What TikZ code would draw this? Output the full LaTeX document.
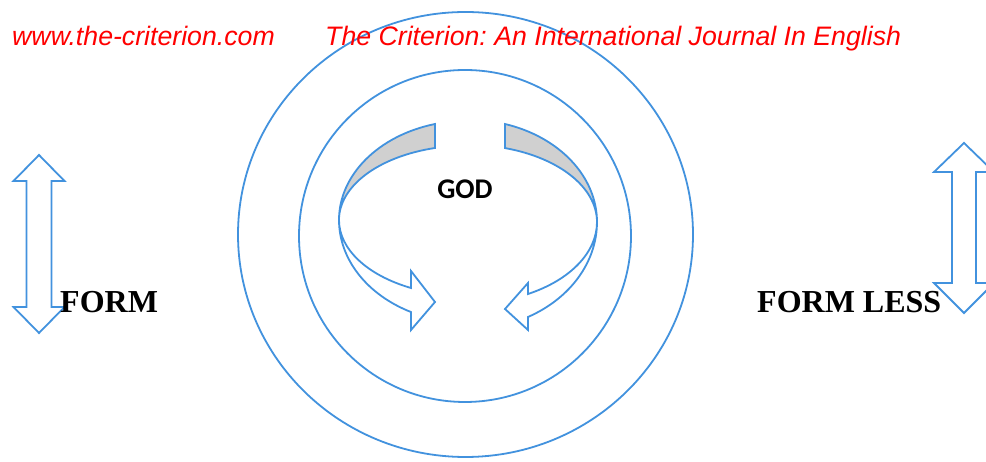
\documentclass[tikz,border=0pt]{standalone}
\usepackage{fontspec}
\setmainfont{Liberation Serif}
\newfontfamily\hdrfont{Liberation Sans}
\newfontfamily\godfont{Carlito}
\usetikzlibrary{calc}
\definecolor{lineblue}{RGB}{66,146,222}
\definecolor{bandgrey}{RGB}{208,208,208}
\definecolor{hdrred}{RGB}{255,0,0}
\frenchspacing
\begin{document}
\begin{tikzpicture}[x=1pt,y=1pt,
  bluestroke/.style={draw=lineblue,line width=1.8pt,line join=miter},
  hdrtext/.style={inner sep=0pt,anchor=base west,text=hdrred,font=\hdrfont\itshape\fontsize{26.7}{30}\selectfont},
  formtext/.style={inner sep=0pt,anchor=base west,font=\bfseries\fontsize{32}{36}\selectfont},
  godtext/.style={inner sep=0pt,anchor=base,font=\godfont\bfseries\fontsize{28.5}{32}\selectfont}]
\clip (0,0) rectangle (986,462);
\fill[white] (0,0) rectangle (986,462);

% circles
\draw[bluestroke] (465.5,227.5) ellipse [x radius=227.5, y radius=222.5];
\draw[bluestroke] (465,226) circle [radius=166];

% left curved arrow
\coordinate (CL) at (468,242);
\fill[bandgrey] ($(CL)+(104.82:129 and 99.3)$)
  arc[start angle=104.82, end angle=180, x radius=129, y radius=99.3]
  arc[start angle=180, end angle=104.82, x radius=129, y radius=74.5] -- cycle;
\draw[bluestroke] ($(CL)+(104.82:129 and 99.3)$)
  arc[start angle=104.82, end angle=180, x radius=129, y radius=99.3]
  arc[start angle=180, end angle=243.78, x radius=129, y radius=102.6]
  -- (411,132) -- (435,160) -- (411,191) -- (411,174)
  arc[start angle=243.78, end angle=180, x radius=129, y radius=75.8]
  arc[start angle=180, end angle=104.82, x radius=129, y radius=74.5] -- cycle;

% right curved arrow
\coordinate (CR) at (468,240);
\fill[bandgrey] ($(CR)+(73.33:129 and 102.3)$)
  arc[start angle=73.33, end angle=0, x radius=129, y radius=102.3]
  arc[start angle=0, end angle=73.33, x radius=129, y radius=77.2] -- cycle;
\draw[bluestroke] ($(CR)+(73.33:129 and 102.3)$)
  arc[start angle=73.33, end angle=0, x radius=129, y radius=102.3]
  arc[start angle=0, end angle=-62.28, x radius=129, y radius=107.3]
  -- (528,132) -- (505,153) -- (528,179) -- (528,168)
  arc[start angle=-62.28, end angle=0, x radius=129, y radius=81.3]
  arc[start angle=0, end angle=73.33, x radius=129, y radius=77.2] -- cycle;

% left double arrow
\draw[bluestroke] (39,307) -- (64.5,281) -- (51.5,281) -- (51.5,155) -- (64.5,155)
  -- (39,129) -- (13.5,155) -- (26.5,155) -- (26.5,281) -- (13.5,281) -- cycle;

% right double arrow
\draw[bluestroke] (964,319) -- (994,290) -- (976,290) -- (976,179) -- (994,179)
  -- (964,149) -- (934,179) -- (952,179) -- (952,290) -- (934,290) -- cycle;

% texts
\node[hdrtext] (url) at (12,416) {www.the-criterion.com};
\node[hdrtext] (journal) at (325,416) {The Criterion: An International Journal In English};
\node[godtext] (god) at (465,263) {GOD};
\node[formtext] (form) at (60,149) {FORM};
\node[formtext] (formless) at (757,149) {FORM LESS};
\end{tikzpicture}
\end{document}
